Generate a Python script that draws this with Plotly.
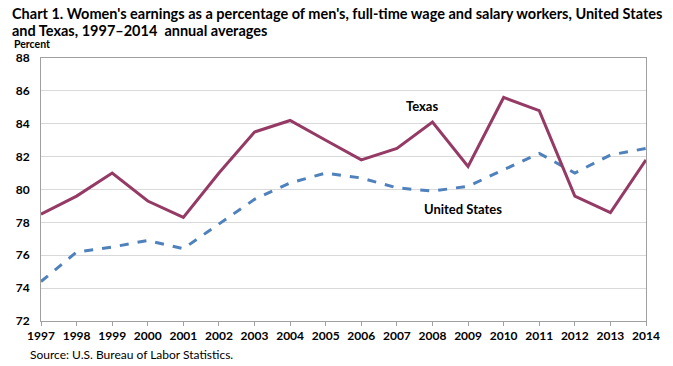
import plotly.graph_objects as go

years = list(range(1997, 2015))
texas = [78.5, 79.6, 81.0, 79.3, 78.3, 81.0, 83.5, 84.2, 83.0, 81.8, 82.5, 84.1, 81.4, 85.6, 84.8, 79.6, 78.6, 81.8]
united_states = [74.4, 76.2, 76.5, 76.9, 76.4, 77.9, 79.4, 80.4, 81.0, 80.7, 80.1, 79.9, 80.2, 81.2, 82.2, 81.0, 82.1, 82.5]
y_ticks = [72, 74, 76, 78, 80, 82, 84, 86, 88]

FONT = "Lato, Calibri, Carlito, sans-serif"

fig = go.Figure()
fig.add_trace(go.Scatter(x=years, y=united_states, mode="lines", name="United States",
                         line=dict(color="#4f81bd", width=3, dash="dash")))
fig.add_trace(go.Scatter(x=years, y=texas, mode="lines", name="Texas",
                         line=dict(color="#953a65", width=3)))

PW, PH = 605, 262.4

fig.update_layout(
    width=673, height=366,
    margin=dict(l=41, r=27, t=58, b=45),
    paper_bgcolor="white", plot_bgcolor="white",
    showlegend=False,
    font=dict(family=FONT, color="#000000"),
    xaxis=dict(range=[1997, 2014], tickmode="array", tickvals=years,
               ticktext=["<b>%d</b>" % y for y in years],
               tickfont=dict(size=12, family=FONT, color="#000"),
               showgrid=False, showline=True, linecolor="#a0a0a0", linewidth=1,
               mirror=True, ticks="outside", ticklen=4, tickcolor="#a0a0a0",
               zeroline=False),
    yaxis=dict(range=[72, 88], tickmode="array", tickvals=y_ticks,
               ticktext=["<b>%d</b>" % v for v in y_ticks],
               tickfont=dict(size=12, family=FONT, color="#000"),
               ticklabelstandoff=8,
               showgrid=True, gridcolor="#d9d9d9", gridwidth=1,
               showline=True, linecolor="#a0a0a0", linewidth=1, mirror=True,
               ticks="", zeroline=False),
    annotations=[
        dict(text="<b>Chart 1. Women's earnings as a percentage of men's, full-time wage and salary workers, United States</b>",
             xref="paper", yref="paper", x=-31/PW, y=1 + 44/PH, xanchor="left", yanchor="middle",
             showarrow=False, align="left", font=dict(size=14.5, family=FONT, color="#000")),
        dict(text="<b>and Texas, 1997\u20132014  annual averages</b>",
             xref="paper", yref="paper", x=-31/PW, y=1 + 27/PH, xanchor="left", yanchor="middle",
             showarrow=False, align="left", font=dict(size=14.5, family=FONT, color="#000")),
        dict(text="<b>Percent</b>", xref="paper", yref="paper", x=-29/PW, y=1 + 13.5/PH,
             xanchor="left", yanchor="middle", showarrow=False, font=dict(size=10.5, family=FONT)),
        dict(text="<b>Texas</b>", x=2007.7, y=85.05, xref="x", yref="y", showarrow=False,
             font=dict(size=13, family=FONT)),
        dict(text="<b>United States</b>", x=2008.85, y=78.8, xref="x", yref="y", showarrow=False,
             font=dict(size=13, family=FONT)),
        dict(text="Source: U.S. Bureau of Labor Statistics.", xref="paper", yref="paper",
             x=-13/PW, y=-24/PH, xanchor="left", yanchor="top", showarrow=False,
             font=dict(size=12, family=FONT)),
    ],
)

fig.write_html("out.html", config={"displayModeBar": False},
               post_script="document.body.style.margin='0';document.body.style.padding='0';")
